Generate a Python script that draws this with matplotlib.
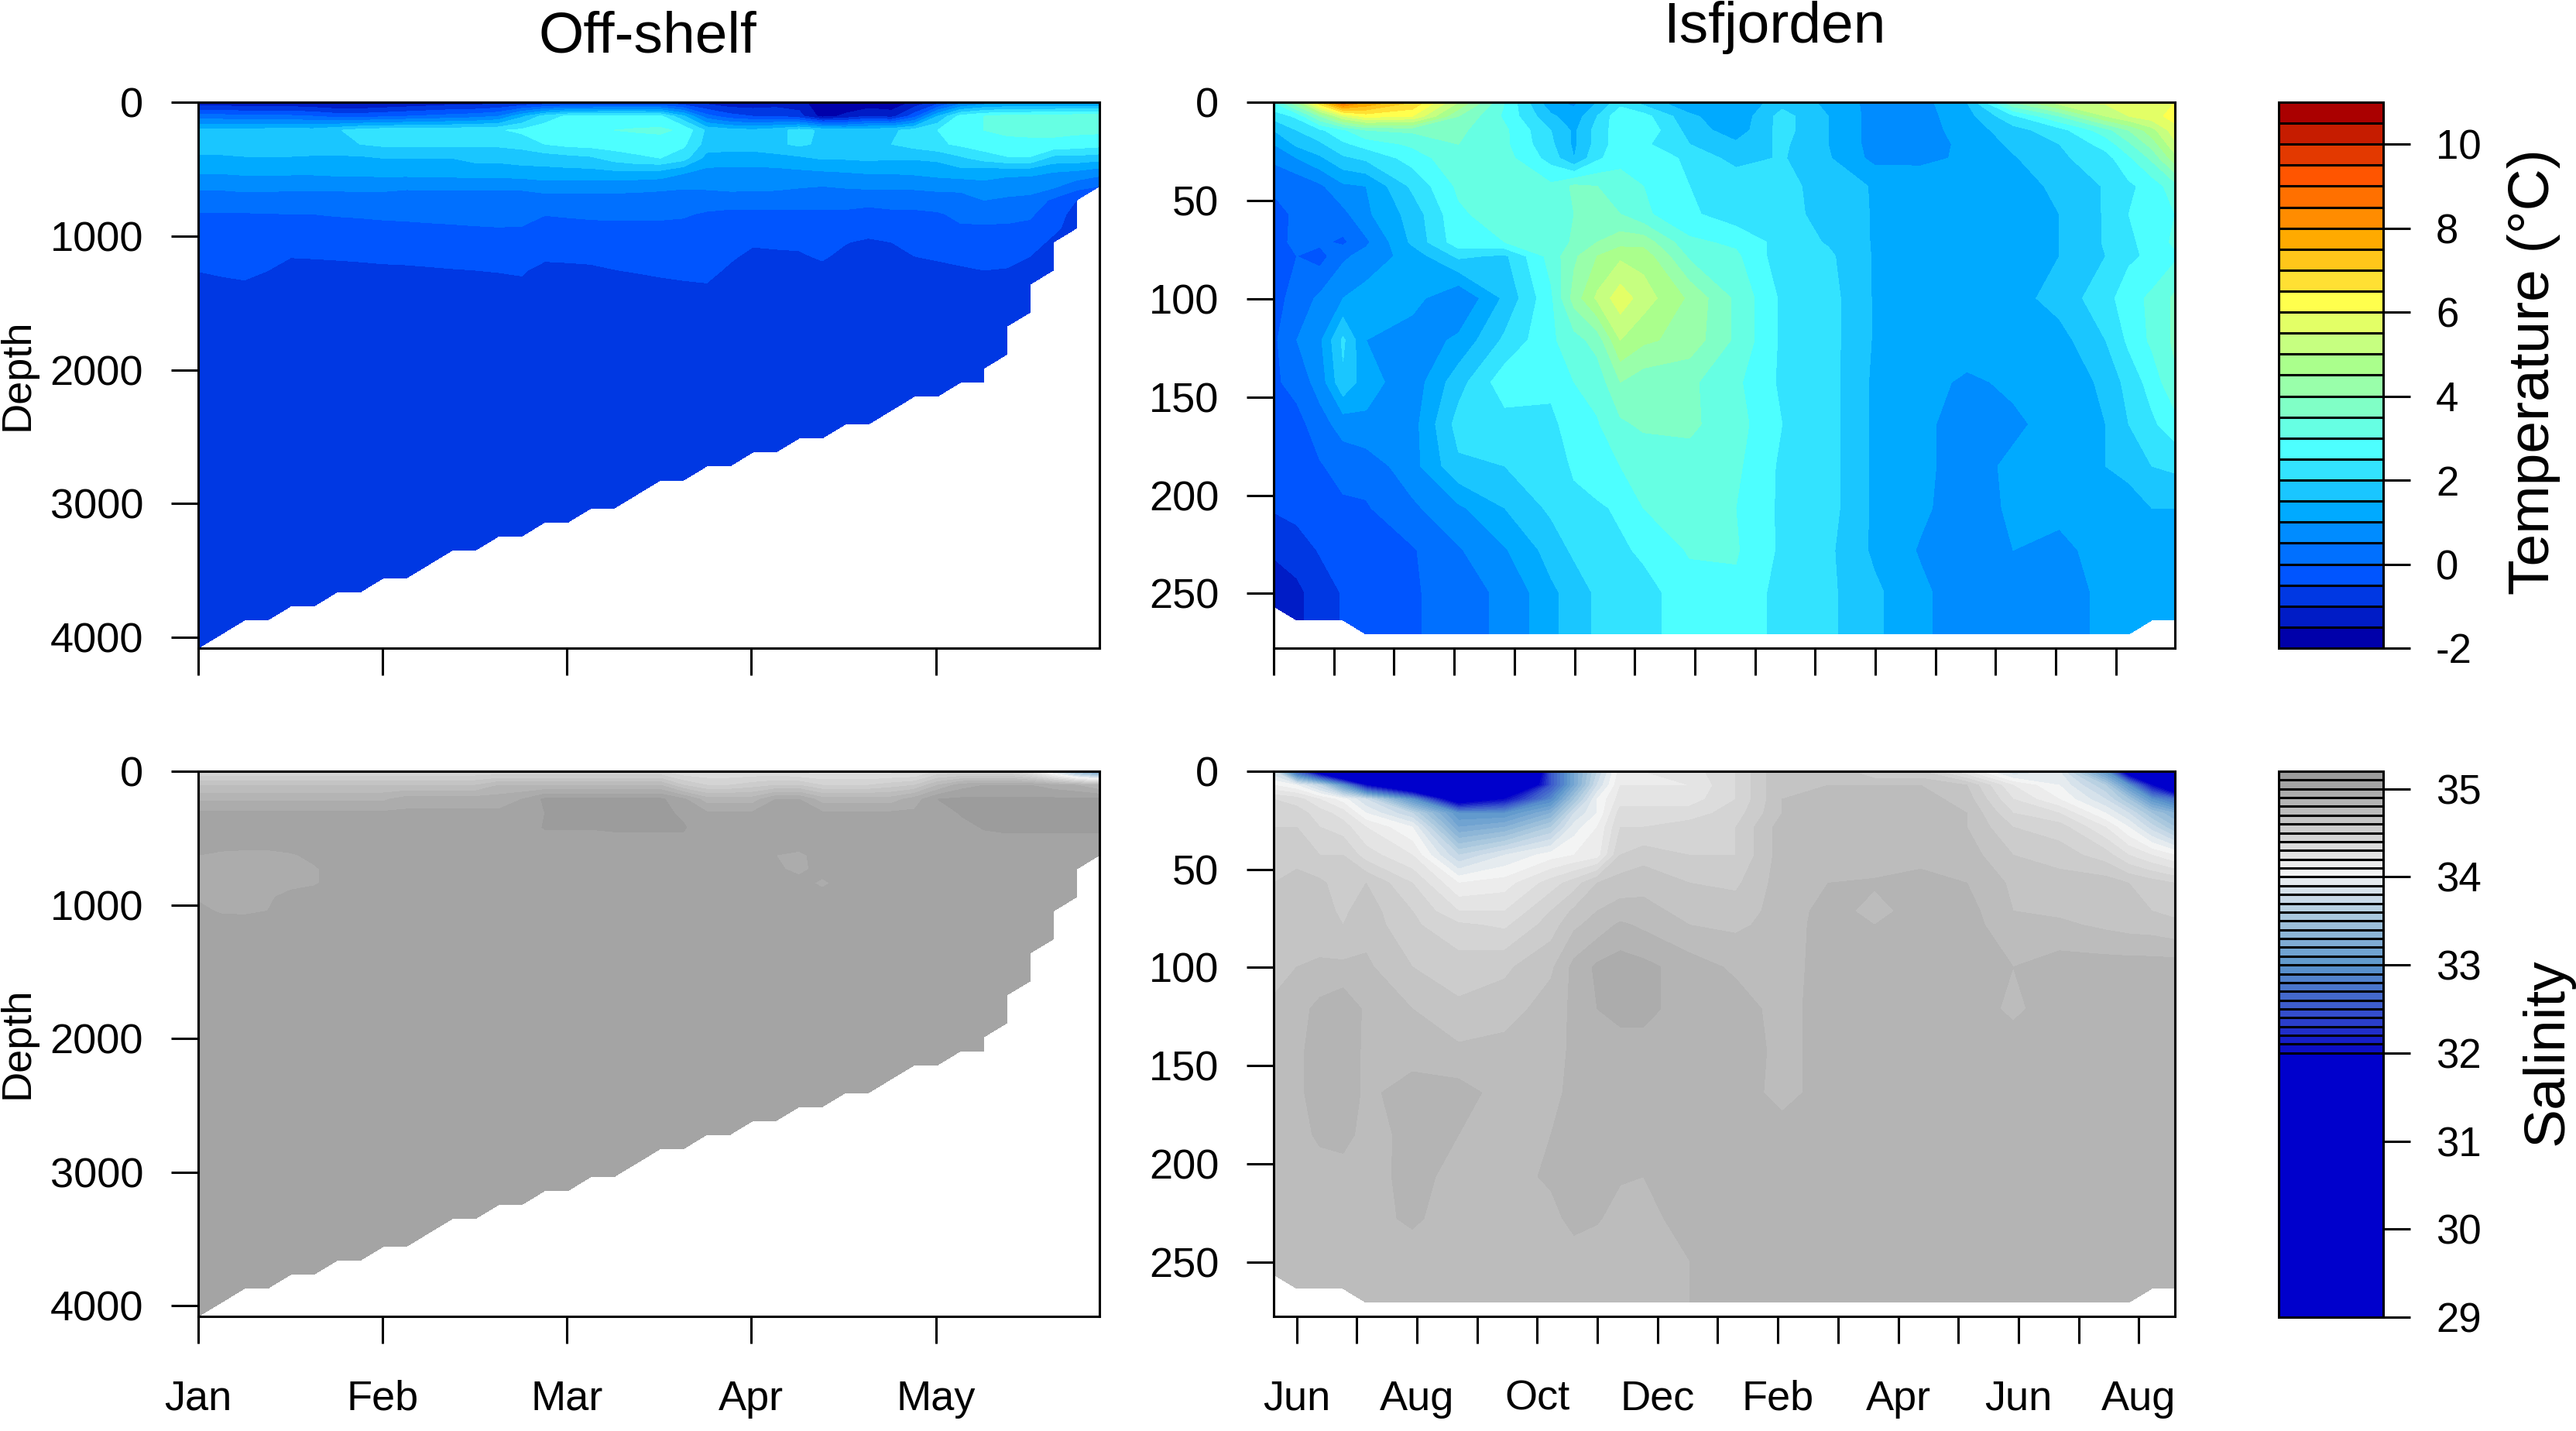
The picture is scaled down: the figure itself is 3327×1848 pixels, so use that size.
import numpy as np
import matplotlib
matplotlib.use("Agg")
import matplotlib.pyplot as plt
from matplotlib.colors import LinearSegmentedColormap, to_hex

W, H = 3327, 1848
plt.rcParams["font.family"] = ["Liberation Sans", "DejaVu Sans"]
plt.rcParams["axes.unicode_minus"] = False

# ---------------------------------------------------------------
# Colour scales
# ---------------------------------------------------------------
TEMP_LEVELS = [-2, -1.5, -1, -0.5, 0, 0.5, 1, 1.5, 2, 2.5, 3, 3.5, 4, 4.5, 5, 5.5,
               6, 6.5, 7, 7.5, 8, 8.5, 9, 9.5, 10, 10.5, 11]
TEMP_COLORS = ["#0000AA", "#001CC6", "#0038E3", "#0055FF", "#0070FF", "#008CFF", "#00AAFF",
               "#1AC6FF", "#33E3FF", "#4DFFFF", "#66FFE3", "#80FFC6", "#99FFAA", "#AAFF8C",
               "#C6FF80", "#E3FF66", "#FFFF4D", "#FFE033", "#FFC61A", "#FFAA00", "#FF8C00",
               "#FF7000", "#FF5500", "#E33900", "#C61C00", "#AA0000"]
TEMP_TICKS = [-2, 0, 2, 4, 6, 8, 10]

SAL_LEVELS = [29, 32, 32.1, 32.2, 32.3, 32.4, 32.5, 32.6, 32.7, 32.8, 32.9, 33, 33.1, 33.2,
              33.3, 33.4, 33.5, 33.6, 33.7, 33.8, 33.9, 34, 34.1, 34.2, 34.3, 34.4, 34.5,
              34.6, 34.7, 34.8, 34.9, 35, 35.1, 35.2]
SAL_ANCHOR_VALUES = [32.0, 32.5, 33.0, 33.5, 34.05, 35.15, 35.2]
SAL_ANCHOR_COLORS = ["#0808C8", "#3A58CC", "#5C96CC", "#A4C4DC", "#F4F4F4", "#9C9C9C", "#9C9C9C"]
SAL_TICKS = [29, 30, 31, 32, 33, 34, 35]

# ---------------------------------------------------------------
# Off-shelf section: 40 x 40 grid, only the upper rows vary
# ---------------------------------------------------------------
OFF_MONTHS = 4.888
OFF_DEPTH_MAX = 4081
OFF_DEEP_TEMP = -0.8
OFF_DEEP_SAL = 35.04
# last valid depth row in each column
OFF_BOTTOM = [39, 38, 37, 37, 36, 36, 35, 35, 34, 34, 33, 32, 32, 31, 31, 30, 30, 29, 29, 28,
              27, 27, 26, 26, 25, 25, 24, 24, 23, 23, 22, 21, 21, 20, 20, 18, 15, 12, 9, 6]

OFF_TEMP = [
    [-1.4, -1.4, -1.5, -1.5, -1.5, -1.6, -1.7, -1.7, -1.6, -1.5, -1.4, -1.3, -1.3, -1.2, -1.1, -1.0, -0.9, -0.9, -0.8, -0.8,
     -0.8, -1.0, -1.2, -1.4, -1.4, -1.3, -1.3, -1.9, -1.9, -1.9, -1.9, -1.4, -0.8, 0.2, 0.6, 0.7, 0.7, 0.8, 0.8, 0.8],
    [0.2, 0.2, 0.1, 0.1, 0.1, 0.0, -0.2, -0.2, -0.1, 0.0, 0.1, 0.2, 0.3, 0.5, 1.4, 2.2, 2.6, 2.7, 2.7, 2.7,
     2.6, 1.6, 0.2, -0.3, -0.5, -0.5, -0.8, -1.7, -1.4, -1.0, -1.2, -0.2, 1.5, 2.7, 3.0, 3.2, 3.2, 3.2, 3.3, 3.3],
    [1.6, 1.6, 1.6, 1.7, 1.7, 1.7, 1.95, 2.2, 2.3, 2.3, 2.3, 2.35, 2.4, 2.45, 2.6, 2.8, 2.9, 2.95, 3.0, 3.05,
     3.1, 2.9, 1.9, 1.7, 1.6, 1.8, 2.2, 1.9, 1.7, 1.8, 1.9, 2.2, 2.5, 2.8, 3.0, 3.1, 3.1, 3.1, 3.1, 3.1],
    [1.8, 1.8, 1.85, 1.85, 1.85, 1.9, 1.9, 2.0, 2.1, 2.1, 2.1, 2.1, 2.1, 2.1, 2.2, 2.5, 2.65, 2.7, 2.75, 2.75,
     2.75, 2.6, 1.8, 1.7, 1.7, 1.9, 2.1, 1.9, 1.8, 1.85, 2.0, 2.2, 2.4, 2.6, 2.8, 2.85, 2.9, 2.9, 2.8, 2.7],
    [1.4, 1.4, 1.45, 1.45, 1.45, 1.4, 1.4, 1.4, 1.5, 1.5, 1.5, 1.5, 1.6, 1.6, 1.65, 1.7, 1.8, 1.9, 2.2, 2.4,
     2.5, 2.2, 1.3, 1.3, 1.3, 1.3, 1.4, 1.55, 1.55, 1.6, 1.55, 1.55, 1.6, 1.9, 2.2, 2.45, 2.45, 1.8, 1.8, 1.7],
    [1.05, 1.05, 1.1, 1.1, 1.1, 1.1, 1.15, 1.15, 1.2, 1.2, 1.25, 1.25, 1.3, 1.3, 1.35, 1.35, 1.35, 1.35, 1.4, 1.4,
     1.35, 1.05, 0.85, 0.8, 0.8, 0.85, 0.9, 0.95, 1.0, 1.05, 1.05, 1.1, 1.2, 1.3, 1.2, 1.1, 1.1, 1.0, 0.9, 0.7],
    [0.6, 0.6, 0.65, 0.65, 0.6, 0.6, 0.6, 0.6, 0.6, 0.55, 0.55, 0.55, 0.55, 0.55, 0.55, 0.75, 0.75, 0.7, 0.7, 0.65,
     0.6, 0.55, 0.6, 0.7, 0.7, 0.65, 0.55, 0.5, 0.55, 0.6, 0.6, 0.6, 0.65, 0.65, 0.85, 0.8, 0.75, 0.6, 0.2, 0.0],
    [0.25, 0.25, 0.28, 0.28, 0.28, 0.3, 0.32, 0.33, 0.34, 0.35, 0.36, 0.37, 0.38, 0.38, 0.38, 0.25, 0.26, 0.28, 0.3, 0.31,
     0.31, 0.3, 0.2, 0.15, 0.14, 0.15, 0.17, 0.2, 0.2, 0.14, 0.18, 0.2, 0.25, 0.3, 0.5, 0.4, 0.33, -0.1, -0.5, -0.8],
    [-0.03, -0.03, -0.03, -0.02, 0.0, 0.0, 0.02, 0.03, 0.05, 0.06, 0.08, 0.1, 0.1, 0.12, 0.12, 0.01, 0.03, 0.05, 0.06, 0.06,
     0.06, 0.04, -0.05, -0.08, -0.08, -0.08, -0.08, -0.1, -0.1, -0.15, -0.1, -0.1, -0.05, 0.1, 0.12, 0.1, 0.06, -0.25, -0.7, -0.8],
    [-0.12, -0.12, -0.12, -0.12, -0.1, -0.1, -0.1, -0.08, -0.07, -0.06, -0.05, -0.04, -0.02, -0.01, -0.02, -0.1, -0.09, -0.08, -0.07, -0.07,
     -0.08, -0.1, -0.15, -0.2, -0.2, -0.2, -0.25, -0.25, -0.25, -0.3, -0.3, -0.25, -0.15, -0.05, -0.05, -0.05, -0.1, -0.4, -0.7, -0.8],
    [-0.22, -0.22, -0.25, -0.25, -0.22, -0.2, -0.2, -0.18, -0.18, -0.17, -0.16, -0.15, -0.14, -0.14, -0.14, -0.2, -0.2, -0.2, -0.2, -0.2,
     -0.2, -0.2, -0.25, -0.35, -0.42, -0.4, -0.42, -0.42, -0.48, -0.58, -0.5, -0.42, -0.3, -0.2, -0.18, -0.2, -0.3, -0.6, -0.8, -0.8],
    [-0.32, -0.35, -0.38, -0.42, -0.47, -0.45, -0.42, -0.4, -0.38, -0.37, -0.35, -0.34, -0.33, -0.32, -0.3, -0.38, -0.37, -0.36, -0.34, -0.33,
     -0.31, -0.3, -0.32, -0.4, -0.65, -0.6, -0.55, -0.45, -0.6, -0.8, -0.6, -0.5, -0.4, -0.35, -0.35, -0.4, -0.5, -0.8, -0.8, -0.8],
    [-0.49, -0.42, -0.38, -0.49, -0.75, -0.72, -0.7, -0.65, -0.6, -0.58, -0.55, -0.52, -0.5, -0.47, -0.43, -0.7, -0.65, -0.6, -0.51, -0.46,
     -0.4, -0.36, -0.3, -0.6, -0.8, -0.8, -0.75, -0.6, -0.8, -0.8, -0.8, -0.8, -0.7, -0.57, -0.5, -0.52, -0.7, -0.8, -0.8, -0.8],
    [-0.6, -0.6, -0.55, -0.7, -0.8, -0.8, -0.8, -0.8, -0.75, -0.75, -0.7, -0.7, -0.65, -0.65, -0.6, -0.8, -0.8, -0.75, -0.7, -0.65,
     -0.6, -0.55, -0.52, -0.75, -0.8, -0.8, -0.8, -0.75, -0.8, -0.8, -0.8, -0.8, -0.8, -0.75, -0.7, -0.7, -0.8, -0.8, -0.8, -0.8],
]

OFF_SAL = [
    [34.4] * 21 + [34.3] * 5 + [34.25] * 6 + [34.4] * 4 + [34.2, 33.8, 33.3, 33.0],
    [34.7] * 13 + [34.8] * 8 + [34.6, 34.5, 34.5, 34.55, 34.6, 34.6, 34.5, 34.5, 34.5, 34.55, 34.6]
    + [34.8, 34.95, 35.0, 35.0, 35.0, 34.95, 34.9, 34.8],
    [34.88] * 9 + [34.95] * 5 + [35.0] + [35.12] * 6 + [35.02, 34.85, 34.85, 34.85, 35.0, 35.0, 34.85, 34.85, 34.85, 34.85, 34.95]
    + [35.1] + [35.12] * 7,
    [35.02] * 15 + [35.1] + [35.13] * 5 + [35.08] + [35.02] * 11 + [35.11] + [35.13] * 6,
    [35.03] * 15 + [35.11] * 7 + [35.03] * 11 + [35.06, 35.11] + [35.13] * 5,
    [35.05] * 18 + [35.08] * 4 + [35.05] * 12 + [35.06] * 6,
    [35.0, 34.98, 34.97, 34.97, 34.99, 35.02] + [35.04] * 19 + [35.0, 34.98] + [35.04] * 13,
    [34.97, 34.96, 34.96, 34.96, 34.97, 34.99, 35.03] + [35.04] * 18 + [35.02, 34.97] + [35.04] * 13,
    [34.97, 34.96, 34.96, 34.97, 34.98, 34.99, 35.03] + [35.04] * 20 + [34.98] + [35.04] * 12,
    [34.99, 34.97, 34.98, 34.99, 35.02] + [35.04] * 35,
    [35.02, 34.99, 34.985, 35.0, 35.03] + [35.04] * 35,
]

# ---------------------------------------------------------------
# Isfjorden section: column and row numbers on the 40 x 40 grid
# ---------------------------------------------------------------
ISF_MONTHS = 14.98
ISF_DEPTH_MAX = 277.8
ISF_COLS = [0, 1, 2, 3, 4, 6, 8, 10, 12, 13, 14, 15, 16, 18, 20, 22, 24, 26, 28, 30, 32, 34, 36, 37, 38, 39]
ISF_ROWS = [0, 1, 2, 3, 4, 6, 8, 10, 11, 14, 17, 20, 23, 26, 29, 32, 35, 36, 37, 38]
ISF_BOTTOM = [36, 37, 37, 37] + [38] * 20 + [37, 37]

ISF_TEMP = [
    [3.0, 4.5, 7.0, 9.0, 8.0, 7.0, 5.0, 3.0, 1.1, 0.9, 1.5, 2.3, 1.8, 1.1, 1.0, 1.8, 1.4, 0.8, 0.8, 1.5, 4.0, 5.3, 5.6, 5.7, 5.8, 6.0],
    [2.2, 2.6, 4.0, 5.5, 6.2, 6.0, 4.0, 2.9, 1.6, 1.2, 2.0, 2.9, 2.7, 1.6, 1.1, 2.2, 1.5, 0.8, 0.8, 1.3, 2.4, 3.5, 5.0, 5.5, 5.8, 6.2],
    [1.5, 2.0, 2.4, 2.9, 3.5, 3.6, 3.6, 3.1, 2.0, 1.4, 2.2, 2.8, 2.9, 1.8, 1.2, 2.2, 1.5, 0.8, 0.8, 1.2, 1.8, 2.3, 3.3, 4.0, 4.8, 5.8],
    [1.0, 1.6, 1.9, 2.4, 2.7, 3.1, 3.5, 3.1, 2.1, 1.4, 2.2, 2.8, 2.6, 2.0, 1.6, 2.1, 1.5, 0.8, 0.8, 1.1, 1.6, 2.0, 2.7, 3.4, 4.2, 5.4],
    [0.6, 1.0, 1.4, 1.9, 2.1, 2.7, 3.4, 3.2, 2.3, 1.5, 2.4, 2.8, 2.8, 2.4, 1.8, 2.05, 1.55, 0.85, 0.85, 1.1, 1.45, 1.9, 2.3, 2.9, 3.6, 4.8],
    [0.1, 0.1, 0.4, 0.9, 1.0, 2.1, 3.1, 3.1, 3.1, 3.6, 3.5, 3.3, 3.0, 2.5, 2.4, 2.15, 1.8, 1.45, 1.4, 1.4, 1.4, 1.55, 2.05, 2.4, 2.7, 3.3],
    [-0.2, 0.1, 0.35, 0.35, 0.9, 1.7, 2.9, 3.3, 3.0, 3.5, 3.6, 3.5, 3.1, 2.6, 2.2, 2.1, 1.9, 1.45, 1.3, 1.3, 1.3, 1.5, 2.05, 2.5, 2.7, 3.0],
    [-0.3, 0.2, 0.1, -0.1, 0.4, 1.6, 2.8, 3.0, 3.1, 3.6, 4.0, 4.3, 4.3, 3.1, 2.9, 2.3, 1.95, 1.45, 1.3, 1.3, 1.3, 1.5, 2.05, 2.4, 2.7, 3.1],
    [-0.4, 0.0, -0.2, 0.4, 0.7, 1.2, 2.1, 1.9, 3.2, 3.9, 4.5, 4.9, 4.8, 3.4, 3.1, 2.2, 2.1, 1.45, 1.3, 1.3, 1.3, 1.5, 2.0, 2.4, 2.6, 2.9],
    [-0.2, 0.2, 0.6, 1.0, 1.2, 1.2, 0.5, 1.6, 2.9, 4.2, 5.1, 5.8, 5.25, 4.4, 3.4, 2.4, 2.2, 1.45, 1.3, 1.3, 1.3, 1.7, 2.3, 2.8, 3.1, 3.6],
    [-0.1, 0.5, 0.9, 2.1, 1.0, 0.7, 1.1, 2.1, 2.9, 3.3, 3.7, 5.0, 4.6, 4.3, 3.4, 2.4, 2.2, 1.45, 1.3, 1.3, 1.3, 1.3, 2.0, 2.6, 3.1, 3.6],
    [-0.1, 0.2, 0.7, 1.9, 1.2, 0.7, 1.8, 2.8, 2.6, 3.0, 3.2, 4.0, 3.7, 3.6, 3.1, 2.4, 2.2, 1.4, 1.2, 0.9, 1.1, 1.2, 1.6, 2.2, 2.7, 3.4],
    [-0.4, -0.2, 0.3, 0.7, 0.9, 0.8, 2.2, 2.3, 2.4, 2.7, 2.95, 3.4, 3.6, 3.6, 3.2, 2.5, 2.2, 1.4, 1.1, 0.8, 0.9, 1.2, 1.5, 2.0, 2.4, 2.8],
    [-0.3, -0.2, -0.05, 0.2, 0.2, 0.8, 1.9, 2.0, 2.1, 2.6, 2.9, 3.0, 3.1, 3.3, 3.1, 2.4, 2.2, 1.4, 1.1, 0.8, 1.1, 1.1, 1.5, 1.7, 2.0, 2.1],
    [-0.45, -0.3, -0.2, -0.1, -0.05, 0.4, 0.9, 1.5, 2.1, 2.3, 2.4, 2.6, 3.0, 3.1, 3.0, 2.4, 2.2, 1.4, 1.1, 0.7, 1.1, 1.1, 1.1, 1.2, 1.5, 1.5],
    [-0.95, -0.8, -0.45, -0.3, -0.2, -0.05, 0.45, 0.95, 1.7, 2.1, 2.1, 2.4, 2.6, 3.05, 3.05, 2.4, 2.1, 1.4, 0.95, 0.6, 1.0, 0.9, 1.15, 1.2, 1.3, 1.3],
    [-1.2, -1.1, -0.8, -0.45, -0.4, -0.1, 0.4, 0.55, 1.4, 1.7, 2.1, 2.2, 2.3, 2.8, 2.9, 2.3, 2.1, 1.6, 1.1, 0.7, 0.7, 0.8, 1.1, 1.15, 1.2, 1.2],
]

ISF_SAL = [
    [33.8, 32.5, 31.5, 30.5, 29.5, 29.5, 29.1, 29.5, 32.5, 33.2, 33.7, 34.15, 34.2, 34.25, 34.4, 34.7, 34.7, 34.5, 34.5, 34.2, 33.8, 33.9, 33.0, 31.5, 30.0, 29.5],
    [34.1, 34.0, 33.7, 33.0, 32.0, 31.0, 30.0, 30.5, 32.5, 33.2, 33.8, 34.2, 34.2, 34.2, 34.4, 34.7, 34.7, 34.7, 34.7, 34.6, 34.2, 34.0, 33.6, 33.0, 32.0, 31.0],
    [34.4, 34.35, 34.2, 34.05, 33.8, 33.0, 31.5, 32.0, 32.9, 33.5, 34.0, 34.25, 34.25, 34.25, 34.4, 34.7, 34.75, 34.75, 34.75, 34.65, 34.3, 34.1, 33.8, 33.5, 33.0, 32.7],
    [34.45, 34.45, 34.35, 34.25, 34.0, 33.7, 33.0, 33.0, 33.3, 33.8, 34.0, 34.35, 34.35, 34.35, 34.45, 34.7, 34.75, 34.75, 34.75, 34.7, 34.4, 34.3, 34.0, 33.8, 33.5, 33.3],
    [34.5, 34.5, 34.4, 34.35, 34.2, 34.0, 33.2, 33.3, 33.6, 33.95, 34.1, 34.4, 34.4, 34.45, 34.5, 34.75, 34.75, 34.75, 34.75, 34.7, 34.5, 34.45, 34.2, 34.0, 33.75, 33.5],
    [34.55, 34.55, 34.5, 34.5, 34.35, 34.2, 33.7, 33.9, 34.05, 34.1, 34.15, 34.5, 34.55, 34.5, 34.5, 34.75, 34.75, 34.75, 34.75, 34.75, 34.6, 34.55, 34.45, 34.3, 34.2, 34.1],
    [34.6, 34.65, 34.62, 34.55, 34.6, 34.4, 34.1, 34.15, 34.35, 34.45, 34.6, 34.65, 34.68, 34.6, 34.58, 34.75, 34.8, 34.81, 34.85, 34.8, 34.68, 34.65, 34.65, 34.6, 34.55, 34.5],
    [34.62, 34.66, 34.64, 34.58, 34.65, 34.5, 34.3, 34.3, 34.5, 34.62, 34.7, 34.74, 34.72, 34.68, 34.65, 34.74, 34.84, 34.77, 34.84, 34.84, 34.7, 34.68, 34.65, 34.62, 34.6, 34.58],
    [34.63, 34.68, 34.63, 34.6, 34.66, 34.52, 34.42, 34.38, 34.55, 34.68, 34.74, 34.82, 34.78, 34.7, 34.68, 34.74, 34.85, 34.8, 34.82, 34.85, 34.72, 34.72, 34.68, 34.66, 34.65, 34.62],
    [34.66, 34.7, 34.72, 34.72, 34.72, 34.6, 34.55, 34.58, 34.68, 34.83, 34.92, 34.95, 34.93, 34.85, 34.78, 34.75, 34.85, 34.85, 34.85, 34.85, 34.8, 34.85, 34.85, 34.85, 34.85, 34.85],
    [34.72, 34.76, 34.83, 34.88, 34.78, 34.7, 34.62, 34.65, 34.75, 34.82, 34.9, 34.93, 34.93, 34.85, 34.85, 34.76, 34.85, 34.85, 34.85, 34.85, 34.78, 34.85, 34.85, 34.85, 34.85, 34.85],
    [34.76, 34.78, 34.84, 34.86, 34.78, 34.76, 34.72, 34.74, 34.76, 34.82, 34.84, 34.86, 34.86, 34.86, 34.88, 34.76, 34.85, 34.82, 34.85, 34.8, 34.85, 34.85, 34.85, 34.85, 34.85, 34.85],
    [34.76, 34.78, 34.84, 34.86, 34.78, 34.84, 34.84, 34.76, 34.78, 34.82, 34.84, 34.86, 34.86, 34.86, 34.86, 34.76, 34.85, 34.85, 34.8, 34.85, 34.85, 34.85, 34.85, 34.85, 34.85, 34.85],
    [34.76, 34.76, 34.82, 34.84, 34.76, 34.83, 34.8, 34.76, 34.8, 34.84, 34.86, 34.86, 34.86] + [34.85] * 13,
    [34.75, 34.75, 34.75, 34.75, 34.75, 34.84, 34.76, 34.75, 34.82, 34.84, 34.84, 34.81, 34.8] + [34.85] * 13,
    [34.74, 34.74, 34.74, 34.74, 34.76, 34.82, 34.74, 34.74, 34.76, 34.84, 34.81, 34.76, 34.76] + [34.85] * 13,
    [34.74] * 11 + [34.75, 34.75, 34.8] + [34.85] * 12,
]

# ---------------------------------------------------------------
# Axis ticks and labels
# ---------------------------------------------------------------
OFF_MONTH_TICKS = [0, 1, 2, 3, 4]
OFF_MONTH_LABELS = ["Jan", "Feb", "Mar", "Apr", "May"]
OFF_DEPTH_TICKS = [0, 1000, 2000, 3000, 4000]
ISF_DEPTH_TICKS = [0, 50, 100, 150, 200, 250]
ISF_MONTH_LABELS = ["Jun", "", "Aug", "", "Oct", "", "Dec", "", "Feb", "", "Apr", "", "Jun", "", "Aug"]
ISF_LOWER_TICK_SHIFT = 0.38

TICK_SIZE = 39
TITLE_SIZE = 54
TICK_LEN = 25
LINE_W = 2.2


def box(left, top, right, bottom):
    """Axes rectangle from pixel edges of the full picture."""
    return [left / W, 1 - bottom / H, (right - left) / W, (bottom - top) / H]


def off_grid(rows, deep):
    """Full off-shelf grid: typed upper rows, uniform water below, NaN under the seabed."""
    z = np.full((40, 40), deep, dtype=float)
    z[:len(rows)] = np.array(rows)
    for col, last in enumerate(OFF_BOTTOM):
        z[last + 1:, col] = np.nan
    return np.ma.masked_invalid(z)


def isf_grid(rows):
    """Isfjorden grid: the deepest typed row is held down to the bottom rows."""
    z = np.array(rows, dtype=float)
    z = np.vstack([z, z[-1], z[-1], z[-1]])
    for i, col_last in enumerate(ISF_BOTTOM):
        for j, row in enumerate(ISF_ROWS):
            if row > col_last:
                z[j, i] = np.nan
    return np.ma.masked_invalid(z)


def style_axes(ax):
    for spine in ax.spines.values():
        spine.set_linewidth(LINE_W)
    ax.tick_params(axis="both", length=TICK_LEN, width=LINE_W, labelsize=TICK_SIZE)
    ax.tick_params(axis="y", pad=26)
    ax.tick_params(axis="x", pad=34)


def main():
    sal_lo, sal_hi = SAL_ANCHOR_VALUES[0], SAL_ANCHOR_VALUES[-1]
    sal_cmap = LinearSegmentedColormap.from_list(
        "sal",
        [((v - sal_lo) / (sal_hi - sal_lo), c) for v, c in zip(SAL_ANCHOR_VALUES, SAL_ANCHOR_COLORS)],
    )
    sal_colors = ["#0000CC"] + [
        to_hex(sal_cmap((lo + 0.05 - sal_lo) / (sal_hi - sal_lo))) for lo in SAL_LEVELS[1:-1]
    ]

    fig = plt.figure(figsize=(W / 100, H / 100), dpi=100, facecolor="white")

    ax_off_t = fig.add_axes(box(256, 132, 1420, 837))
    ax_isf_t = fig.add_axes(box(1645, 132, 2809, 837))
    ax_off_s = fig.add_axes(box(256, 996, 1420, 1700))
    ax_isf_s = fig.add_axes(box(1645, 996, 2809, 1700))
    cax_t = fig.add_axes(box(2943, 132, 3078, 837))
    cax_s = fig.add_axes(box(2943, 996, 3078, 1701))

    off_x = np.linspace(0, OFF_MONTHS, 40)
    off_y = np.linspace(0, OFF_DEPTH_MAX, 40)
    isf_x = np.array(ISF_COLS) * ISF_MONTHS / 39
    isf_y = np.array(ISF_ROWS) * ISF_DEPTH_MAX / 39

    cs_t = ax_off_t.contourf(off_x, off_y, off_grid(OFF_TEMP, OFF_DEEP_TEMP),
                             levels=TEMP_LEVELS, colors=TEMP_COLORS)
    ax_isf_t.contourf(isf_x, isf_y, isf_grid(ISF_TEMP), levels=TEMP_LEVELS, colors=TEMP_COLORS)
    cs_s = ax_off_s.contourf(off_x, off_y, off_grid(OFF_SAL, OFF_DEEP_SAL),
                             levels=SAL_LEVELS, colors=sal_colors)
    ax_isf_s.contourf(isf_x, isf_y, isf_grid(ISF_SAL), levels=SAL_LEVELS, colors=sal_colors)

    # off-shelf panels
    for ax in (ax_off_t, ax_off_s):
        ax.set_xlim(0, OFF_MONTHS)
        ax.set_ylim(OFF_DEPTH_MAX, 0)
        ax.set_yticks(OFF_DEPTH_TICKS)
        ax.set_xticks(OFF_MONTH_TICKS)
        style_axes(ax)
    ax_off_t.set_xticklabels([])
    ax_off_s.set_xticklabels(OFF_MONTH_LABELS)

    # Isfjorden panels, the lower one has its month ticks shifted
    for ax in (ax_isf_t, ax_isf_s):
        ax.set_xlim(0, ISF_MONTHS)
        ax.set_ylim(ISF_DEPTH_MAX, 0)
        ax.set_yticks(ISF_DEPTH_TICKS)
        style_axes(ax)
    ax_isf_t.set_xticks(np.arange(15))
    ax_isf_t.set_xticklabels([])
    ax_isf_s.set_xticks(np.arange(15) + ISF_LOWER_TICK_SHIFT)
    ax_isf_s.set_xticklabels(ISF_MONTH_LABELS)

    # colour bars
    for cs, cax, ticks in ((cs_t, cax_t, TEMP_TICKS), (cs_s, cax_s, SAL_TICKS)):
        cb = fig.colorbar(cs, cax=cax, drawedges=True, spacing="proportional", ticks=ticks)
        cb.outline.set_linewidth(LINE_W)
        cb.dividers.set_linewidth(LINE_W)
        cb.dividers.set_color("black")
        cax.tick_params(length=TICK_LEN, width=LINE_W, labelsize=TICK_SIZE - 1, pad=24)
        cax.minorticks_off()

    # titles and side labels
    fig.text(836 / W, 1 - 48 / H, "Off-shelf", fontsize=TITLE_SIZE, ha="center", va="center")
    fig.text(2292 / W, 1 - 36 / H, "Isfjorden", fontsize=TITLE_SIZE, ha="center", va="center")
    fig.text(22 / W, 1 - 484 / H, "Depth", fontsize=TICK_SIZE, rotation=90, ha="center", va="center")
    fig.text(22 / W, 1 - 1347 / H, "Depth", fontsize=TICK_SIZE, rotation=90, ha="center", va="center")
    fig.text(3272 / W, 1 - 480 / H, "Temperature (°C)", fontsize=TITLE_SIZE, rotation=90,
             ha="center", va="center")
    fig.text(3290 / W, 1 - 1358 / H, "Salinity", fontsize=TITLE_SIZE, rotation=90,
             ha="center", va="center")

    fig.savefig("out.png", dpi=100)
    plt.close(fig)


if __name__ == "__main__":
    main()
